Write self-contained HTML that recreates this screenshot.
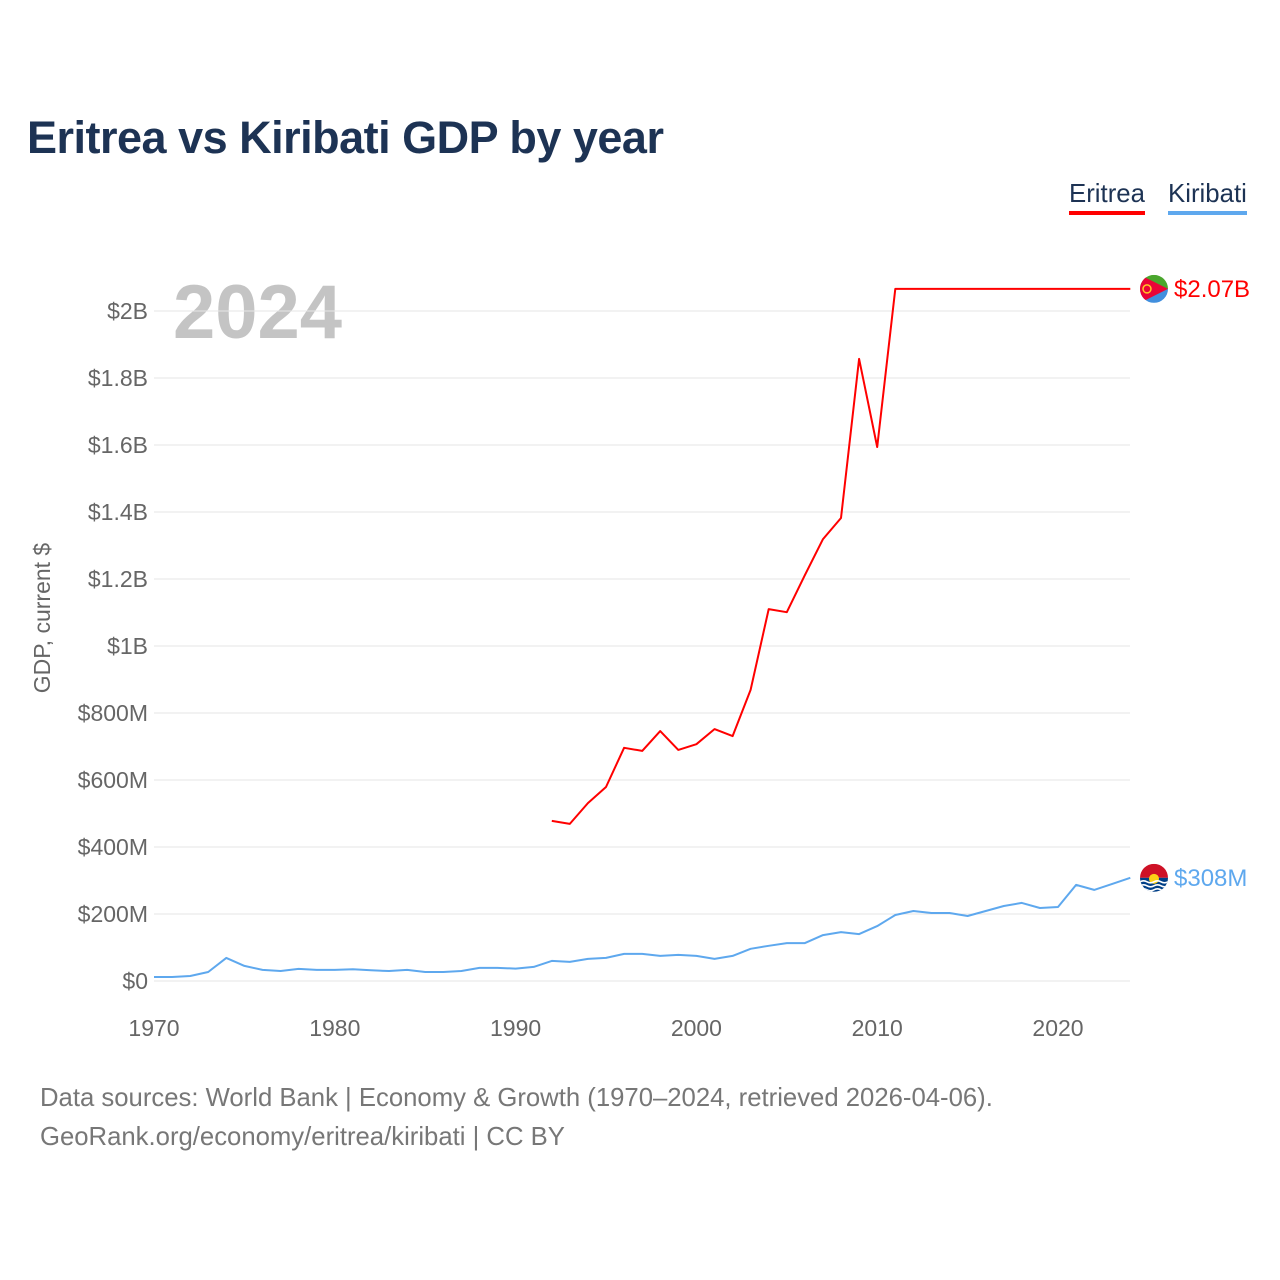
<!DOCTYPE html>
<html><head><meta charset="utf-8">
<style>
html,body{margin:0;padding:0;background:#fff;width:1280px;height:1280px;overflow:hidden}
body{font-family:"Liberation Sans",sans-serif;position:relative}
.title{position:absolute;left:27px;top:112px;font-size:45px;font-weight:bold;color:#1d3354;letter-spacing:-0.5px}
.legend{position:absolute;top:180px;font-size:25.8px;color:#1d3354;padding-bottom:2px}
.src{position:absolute;left:40px;font-size:25.7px;color:#777}
</style></head><body>
<div class="title">Eritrea vs Kiribati GDP by year</div>
<div class="legend" style="left:1069px;border-bottom:4px solid #ff0000">Eritrea</div>
<div class="legend" style="left:1168px;border-bottom:4px solid #5ea8ee">Kiribati</div>
<svg id="chart" width="1280" height="1280" style="position:absolute;left:0;top:0"></svg>
<div class="src" style="top:1084px">Data sources: World Bank | Economy &amp; Growth (1970–2024, retrieved 2026-04-06).</div>
<div class="src" style="top:1123px">GeoRank.org/economy/eritrea/kiribati | CC BY</div>
<script>
const yTicks=[0,200,400,600,800,1000,1200,1400,1600,1800,2000];
const yTickLabels=["$0","$200M","$400M","$600M","$800M","$1B","$1.2B","$1.4B","$1.6B","$1.8B","$2B"];
const xTicks=[1970,1980,1990,2000,2010,2020];
const eritreaYears=[1992,1993,1994,1995,1996,1997,1998,1999,2000,2001,2002,2003,2004,2005,2006,2007,2008,2009,2010,2011,2012,2013,2014,2015,2016,2017,2018,2019,2020,2021,2022,2023,2024];
const eritreaValues=[478,469,531,579,696,687,746,690,707,752,731,869,1110,1101,1212,1319,1382,1857,1594,2066,2066,2066,2066,2066,2066,2066,2066,2066,2066,2066,2066,2066,2066];
const kiribatiYears=[1970,1971,1972,1973,1974,1975,1976,1977,1978,1979,1980,1981,1982,1983,1984,1985,1986,1987,1988,1989,1990,1991,1992,1993,1994,1995,1996,1997,1998,1999,2000,2001,2002,2003,2004,2005,2006,2007,2008,2009,2010,2011,2012,2013,2014,2015,2016,2017,2018,2019,2020,2021,2022,2023,2024];
const kiribatiValues=[12,12,15,27,69,45,33,30,36,33,33,35,32,30,33,27,27,30,39,39,37,42,60,57,66,69,81,81,75,78,75,66,75,96,105,113,113,137,146,140,164,197,209,203,203,194,209,224,233,218,221,287,272,290,308];
const NS="http://www.w3.org/2000/svg";
const svg=document.getElementById('chart');
const X=y=>154+(y-1970)*(1058-154)/50;
const Y=v=>981-v*(981-311)/2000;
function mk(t,a){const e=document.createElementNS(NS,t);for(const k in a)e.setAttribute(k,a[k]);svg.appendChild(e);return e;}
const big=mk('text',{x:173,y:338,'font-size':76,'font-weight':'bold',fill:'#c4c4c4','font-family':'Liberation Sans, sans-serif'});big.textContent='2024';


yTicks.forEach((v,i)=>{
 const g=mk('line',{x1:154,x2:1130,y1:Y(v),y2:Y(v),stroke:'#e6e6e6','stroke-width':1});
 
 
 const t=mk('text',{x:148,y:Y(v)+8,'text-anchor':'end','font-size':23,fill:'#666','font-family':'Liberation Sans, sans-serif'});t.textContent=yTickLabels[i];
 
 
});
xTicks.forEach(yr=>{
 const t=mk('text',{x:X(yr),y:1036,'text-anchor':'middle','font-size':23,fill:'#666','font-family':'Liberation Sans, sans-serif'});t.textContent=yr;
 
 
});
const yt=mk('text',{x:0,y:0,transform:'translate(50,618) rotate(-90)','text-anchor':'middle','font-size':23,fill:'#666','font-family':'Liberation Sans, sans-serif'});yt.textContent='GDP, current $';


function line(ys,vs,c,name){
 const d=ys.map((y,i)=>(i?'L':'M')+X(y).toFixed(1)+','+Y(vs[i]).toFixed(1)).join(' ');
 const p=mk('path',{d:d,fill:'none',stroke:c,'stroke-width':2,'stroke-linejoin':'round'});
 
 
}
line(kiribatiYears,kiribatiValues,'#5ea8ee','kiribati-line');
line(eritreaYears,eritreaValues,'#ff0000','eritrea-line');
const eV=eritreaValues[eritreaValues.length-1],kV=kiribatiValues[kiribatiValues.length-1];
const f1=mk('g',{});


f1.innerHTML='<clipPath id="c1"><circle cx="1154" cy="'+Y(eV)+'" r="14"/></clipPath><g clip-path="url(#c1)"><rect x="1140" y="'+(Y(eV)-14)+'" width="28" height="14" fill="#4aa62d"/><rect x="1140" y="'+Y(eV)+'" width="28" height="14" fill="#418fde"/><polygon points="1140,'+(Y(eV)-14)+' 1168,'+Y(eV)+' 1140,'+(Y(eV)+14)+'" fill="#ea0437"/><circle cx="1147" cy="'+Y(eV)+'" r="4" fill="none" stroke="#ffc726" stroke-width="1.5"/></g>';
svg.appendChild(f1);
const l1=mk('text',{x:1174,y:Y(eV)+8,'font-size':24,fill:'#ff0000','font-family':'Liberation Sans, sans-serif'});l1.textContent='$2.07B';


const f2=mk('g',{});


const ky=Y(kV);
f2.innerHTML='<clipPath id="c2"><circle cx="1154" cy="'+ky+'" r="14"/></clipPath><g clip-path="url(#c2)"><rect x="1140" y="'+(ky-14)+'" width="28" height="14" fill="#ce1126"/><rect x="1140" y="'+ky+'" width="28" height="14" fill="#003f87"/><circle cx="1154" cy="'+(ky+1)+'" r="5" fill="#fcd116"/><path d="M1140 '+(ky+4)+' q3.5 -2 7 0 t7 0 t7 0 t7 0 M1140 '+(ky+8)+' q3.5 -2 7 0 t7 0 t7 0 t7 0 M1140 '+(ky+12)+' q3.5 -2 7 0 t7 0 t7 0 t7 0" stroke="#fff" stroke-width="1.6" fill="none"/></g>';
svg.appendChild(f2);
const l2=mk('text',{x:1174,y:ky+8,'font-size':24,fill:'#5ea8ee','font-family':'Liberation Sans, sans-serif'});l2.textContent='$308M';


</script>
</body></html>
